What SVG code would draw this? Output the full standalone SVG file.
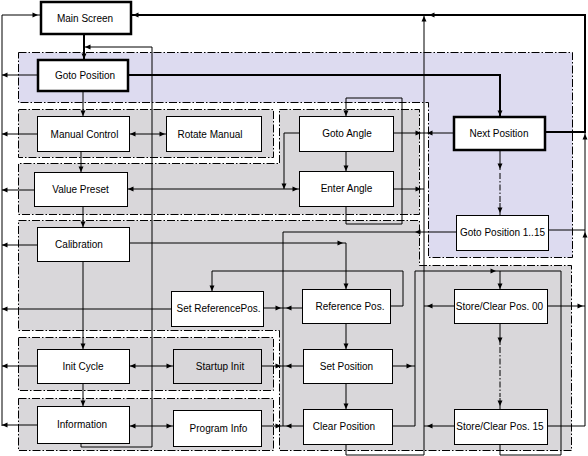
<svg xmlns="http://www.w3.org/2000/svg" width="588" height="456" viewBox="0 0 588 456">
<style>
.reg{stroke:#000;stroke-width:1;stroke-dasharray:8 2 1.5 2}
.gray{fill:#d9d7da}
.purple{fill:#dddbf0}
.node rect{fill:#fff;stroke:#000;stroke-width:1}
.node.bold rect{stroke-width:2.5}
.node.shaded rect{fill:#d9d7da}
.node text{font-family:"Liberation Sans",Arial,sans-serif;font-size:10px;text-anchor:middle;fill:#000}
.c path{fill:none;stroke:#000;stroke-width:1}
.c path.thick{stroke-width:2}
.c path.dd{stroke-dasharray:6 2 1.5 2}
.c use{fill:#000;stroke:none}
</style>
<defs><path id="ah" d="M1,0 L-4.5,-2.5 L-4.5,2.5 Z"/></defs>
<rect x="0" y="0" width="588" height="456" fill="#fff"/>
<g id="regions">
<path class="reg purple" d="M18.5,52.5 H572.5 V257.5 H428.5 V102.5 H18.5 Z"/>
<rect class="reg gray" x="18.5" y="109.5" width="255" height="48"/>
<path class="reg gray" d="M279.5,109.5 H419.5 V214.5 H18.5 V163.5 H279.5 Z"/>
<path class="reg gray" d="M18.5,220.5 H419.5 V265.5 H571.5 V450.5 H279.5 V330.5 H18.5 Z"/>
<rect class="reg gray" x="18.5" y="337.5" width="255" height="53"/>
<rect class="reg gray" x="18.5" y="398.5" width="255" height="52"/>
</g>
<g id="connectors" class="c">
<path class="thick" d="M84,35 V59"/>
<path class="thick" d="M129,75 H500 V116"/>
<path class="thick" d="M546,132 H585 V15 H132"/>
<path d="M2,426 V15 H40"/>
<path d="M37,75 H2 M37,134 H2 M34,190 H2 M37,245 H2 M171,309 H2 M37,366 H2 M37,425 H2"/>
<path d="M81,443 V447 H152 V47 H85"/>
<path d="M83,92 V116 M81,152 V172 M83,206 V227 M83,261 V349 M83,383 V406"/>
<path d="M129,134 H166 M129,366 H173 M129,426 H173 M127,189 H299"/>
<path d="M299,133 H284 V189"/>
<path d="M346,151 V171"/>
<path d="M346,206 V224 H402 V98 H346 V116"/>
<path d="M393,133 H453 M393,189 H424"/>
<path d="M346,444 V455 H424 V15"/>
<path d="M454,306 H424 M454,426 H424"/>
<path d="M456,232 H283 V426"/>
<path d="M261,426 H304 M261,366 H304 M263,308 H302"/>
<path d="M129,243 H346 V289"/>
<path d="M390,306 H403 V271 H212 V291"/>
<path d="M346,323 V349 M346,383 V409"/>
<path d="M393,366 H415"/>
<path d="M393,426 H415 V271 H500 V289"/>
<path d="M500,444 V455 H561 V271 H500"/>
<path d="M500,323 V345 M500,398 V409"/>
<path class="dd" d="M500,347 V397"/>
<path d="M500,151 V170 M500,203 V215"/>
<path class="dd" d="M500,173 V202"/>
<path d="M548,230 H585 M547,306 H585 M547,426 H585 V132"/>
<use href="#ah" transform="translate(84,58) rotate(90)"/>
<use href="#ah" transform="translate(500,115) rotate(90)"/>
<use href="#ah" transform="translate(134,15) rotate(180)"/>
<use href="#ah" transform="translate(430,15) rotate(180)"/>
<use href="#ah" transform="translate(37,15)"/>
<use href="#ah" transform="translate(3,75) rotate(180)"/>
<use href="#ah" transform="translate(3,134) rotate(180)"/>
<use href="#ah" transform="translate(3,190) rotate(180)"/>
<use href="#ah" transform="translate(3,245) rotate(180)"/>
<use href="#ah" transform="translate(3,309) rotate(180)"/>
<use href="#ah" transform="translate(3,366) rotate(180)"/>
<use href="#ah" transform="translate(3,425) rotate(180)"/>
<use href="#ah" transform="translate(86,47) rotate(180)"/>
<use href="#ah" transform="translate(83,115) rotate(90)"/>
<use href="#ah" transform="translate(81,171) rotate(90)"/>
<use href="#ah" transform="translate(83,226) rotate(90)"/>
<use href="#ah" transform="translate(83,348) rotate(90)"/>
<use href="#ah" transform="translate(83,405) rotate(90)"/>
<use href="#ah" transform="translate(131,134) rotate(180)"/>
<use href="#ah" transform="translate(164,134)"/>
<use href="#ah" transform="translate(131,366) rotate(180)"/>
<use href="#ah" transform="translate(171,366)"/>
<use href="#ah" transform="translate(131,426) rotate(180)"/>
<use href="#ah" transform="translate(171,426)"/>
<use href="#ah" transform="translate(129,189) rotate(180)"/>
<use href="#ah" transform="translate(297,189)"/>
<use href="#ah" transform="translate(284,188) rotate(90)"/>
<use href="#ah" transform="translate(346,170) rotate(90)"/>
<use href="#ah" transform="translate(346,115) rotate(90)"/>
<use href="#ah" transform="translate(420,133)"/>
<use href="#ah" transform="translate(420,189)"/>
<use href="#ah" transform="translate(428,133) rotate(180)"/>
<use href="#ah" transform="translate(424,17) rotate(-90)"/>
<use href="#ah" transform="translate(428,306) rotate(180)"/>
<use href="#ah" transform="translate(428,426) rotate(180)"/>
<use href="#ah" transform="translate(416,232) rotate(180)"/>
<use href="#ah" transform="translate(287,308) rotate(180)"/>
<use href="#ah" transform="translate(280,308)"/>
<use href="#ah" transform="translate(287,366) rotate(180)"/>
<use href="#ah" transform="translate(280,366)"/>
<use href="#ah" transform="translate(287,426) rotate(180)"/>
<use href="#ah" transform="translate(280,426)"/>
<use href="#ah" transform="translate(342,243)"/>
<use href="#ah" transform="translate(346,288) rotate(90)"/>
<use href="#ah" transform="translate(212,290) rotate(90)"/>
<use href="#ah" transform="translate(346,348) rotate(90)"/>
<use href="#ah" transform="translate(346,408) rotate(90)"/>
<use href="#ah" transform="translate(411,366)"/>
<use href="#ah" transform="translate(500,288) rotate(90)"/>
<use href="#ah" transform="translate(495,271)"/>
<use href="#ah" transform="translate(500,342) rotate(90)"/>
<use href="#ah" transform="translate(500,405) rotate(90)"/>
<use href="#ah" transform="translate(500,168) rotate(90)"/>
<use href="#ah" transform="translate(500,212) rotate(90)"/>
<use href="#ah" transform="translate(582,306)"/>
<use href="#ah" transform="translate(585,233) rotate(-90)"/>
<use href="#ah" transform="translate(585,135) rotate(-90)"/>
</g>
<g id="main-screen" class="node bold"><rect x="41" y="2" width="90" height="32"/><text x="85" y="21.5">Main Screen</text></g>
<g id="goto-position" class="node bold"><rect x="38" y="60" width="90" height="31"/><text x="85" y="79">Goto Position</text></g>
<g id="next-position" class="node bold"><rect x="454" y="117" width="91" height="33"/><text x="499" y="137">Next Position</text></g>
<g id="manual-control" class="node"><rect x="37.5" y="116.5" width="92" height="35"/><text x="84.5" y="137.5">Manual Control</text></g>
<g id="rotate-manual" class="node"><rect x="166.5" y="116.5" width="95" height="35"/><text x="210" y="137.5">Rotate Manual</text></g>
<g id="goto-angle" class="node"><rect x="299.5" y="116.5" width="94" height="35"/><text x="347" y="137">Goto Angle</text></g>
<g id="enter-angle" class="node"><rect x="299.5" y="171.5" width="94" height="35"/><text x="346.5" y="192">Enter Angle</text></g>
<g id="value-preset" class="node"><rect x="34.5" y="172.5" width="93" height="34"/><text x="80.5" y="192.5">Value Preset</text></g>
<g id="calibration" class="node"><rect x="37.5" y="227.5" width="92" height="34"/><text x="79" y="247.5">Calibration</text></g>
<g id="goto-position-1-15" class="node"><rect x="456.5" y="215.5" width="92" height="35"/><text x="502.5" y="236">Goto Position 1..15</text></g>
<g id="set-reference-pos" class="node"><rect x="171.5" y="291.5" width="92" height="35"/><text x="218.5" y="312">Set ReferencePos.</text></g>
<g id="reference-pos" class="node"><rect x="302.5" y="289.5" width="88" height="34"/><text x="350" y="309.5">Reference Pos.</text></g>
<g id="store-clear-00" class="node"><rect x="454.5" y="289.5" width="93" height="34"/><text x="499.5" y="309.5">Store/Clear Pos. 00</text></g>
<g id="set-position" class="node"><rect x="303.5" y="349.5" width="89" height="34"/><text x="346.5" y="369.5">Set Position</text></g>
<g id="clear-position" class="node"><rect x="303.5" y="409.5" width="89" height="35"/><text x="344" y="430">Clear Position</text></g>
<g id="store-clear-15" class="node"><rect x="454.5" y="409.5" width="93" height="35"/><text x="500" y="430">Store/Clear Pos. 15</text></g>
<g id="init-cycle" class="node"><rect x="37.5" y="349.5" width="92" height="34"/><text x="83" y="369.5">Init Cycle</text></g>
<g id="startup-init" class="node shaded"><rect x="173.5" y="349.5" width="88" height="34"/><text x="220" y="369.5">Startup Init</text></g>
<g id="information" class="node"><rect x="37.5" y="406.5" width="92" height="37"/><text x="82" y="428">Information</text></g>
<g id="program-info" class="node"><rect x="173.5" y="410.5" width="88" height="36"/><text x="218.5" y="432">Program Info</text></g>
</svg>
